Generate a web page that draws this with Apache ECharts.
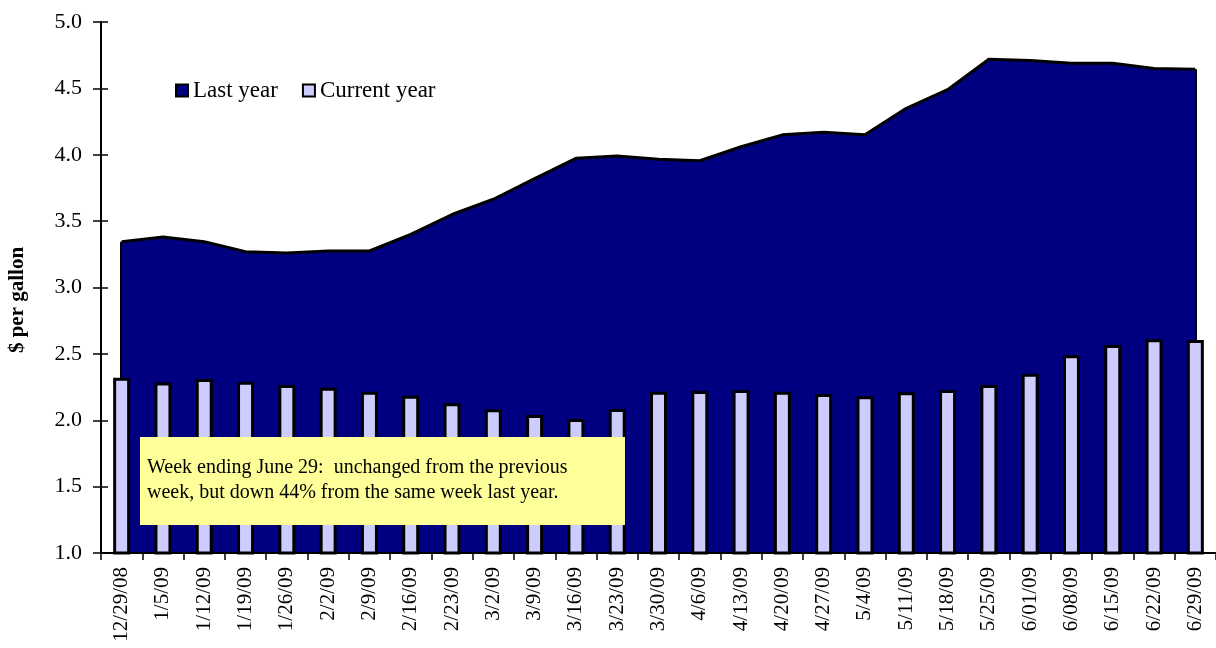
<!DOCTYPE html>
<html>
<head>
<meta charset="utf-8">
<script src="https://cdn.jsdelivr.net/npm/echarts@6/dist/echarts.min.js"></script>
<style>
html,body{margin:0;padding:0;background:#fff;}
#chart{width:1216px;height:648px;}
</style>
</head>
<body>
<div id="chart"></div>
<script>
const categories = ['12/29/08','1/5/09','1/12/09','1/19/09','1/26/09','2/2/09','2/9/09','2/16/09','2/23/09','3/2/09','3/9/09','3/16/09','3/23/09','3/30/09','4/6/09','4/13/09','4/20/09','4/27/09','5/4/09','5/11/09','5/18/09','5/25/09','6/01/09','6/08/09','6/15/09','6/22/09','6/29/09'];
const lastYear = [3.345,3.38,3.345,3.27,3.26,3.275,3.275,3.40,3.55,3.665,3.82,3.973,3.99,3.966,3.955,4.06,4.15,4.17,4.15,4.35,4.49,4.72,4.71,4.69,4.69,4.65,4.645];
const currentYear = [2.32,2.285,2.31,2.29,2.265,2.245,2.215,2.185,2.128,2.082,2.04,2.01,2.085,2.215,2.22,2.228,2.215,2.198,2.18,2.21,2.228,2.266,2.35,2.49,2.567,2.61,2.605];
const yTicks = {min: 1.0, max: 5.0, interval: 0.5};
const noteLines = ['Week ending June 29:  unchanged from the previous', 'week, but down 44% from the same week last year.'];

const FONT = 'Liberation Serif, Times New Roman, serif';
const chart = echarts.init(document.getElementById('chart'), null, {renderer: 'canvas'});
const n = categories.length;

chart.setOption({
  animation: false,
  backgroundColor: '#ffffff',
  grid: {left: 101, top: 22, bottom: 95, right: -10, containLabel: false},
  legend: {
    left: 170, top: 74,
    itemWidth: 12, itemHeight: 12, itemGap: 24,
    textStyle: {fontFamily: FONT, fontSize: 23, color: '#000'},
    data: [
      {name: 'Last year', icon: 'rect', itemStyle: {color: '#000080', borderColor: '#000', borderWidth: 2}},
      {name: 'Current year', icon: 'rect', itemStyle: {color: '#CCCCFF', borderColor: '#000', borderWidth: 2}}
    ]
  },
  xAxis: {
    type: 'category',
    data: categories,
    boundaryGap: true,
    z: 10,
    axisLine: {lineStyle: {color: '#000', width: 2}},
    axisTick: {show: true, length: 7, lineStyle: {color: '#000', width: 1.5}},
    axisLabel: {interval: 0, rotate: 90, margin: 14, fontFamily: FONT, fontSize: 21, color: '#000'}
  },
  yAxis: [{
    type: 'value',
    min: yTicks.min, max: yTicks.max, interval: yTicks.interval,
    z: 10,
    axisLine: {show: true, lineStyle: {color: '#000', width: 2}},
    axisTick: {show: true, length: 8, lineStyle: {color: '#000', width: 1.5}},
    axisLabel: {margin: 19, fontFamily: FONT, fontSize: 22, color: '#000', formatter: v => v.toFixed(1)},
    splitLine: {show: false}
  }, {
    type: 'value', position: 'left', offset: 0,
    min: yTicks.min, max: yTicks.max, interval: yTicks.interval,
    z: 10,
    axisLine: {show: false},
    axisTick: {show: true, inside: true, length: 7, lineStyle: {color: '#000', width: 1.5}},
    axisLabel: {show: false},
    splitLine: {show: false}
  }],
  series: [{
    name: 'Last year',
    type: 'line',
    data: lastYear,
    symbol: 'none',
    z: 1,
    itemStyle: {color: '#000080'},
    lineStyle: {color: '#000', width: 3},
    areaStyle: {color: '#000080', opacity: 1, origin: 'start'},
    markLine: {
      silent: true, symbol: 'none', animation: false, z: 1,
      label: {show: false},
      lineStyle: {color: '#000', width: 3, type: 'solid'},
      data: [
        [{coord: [categories[0], yTicks.min]}, {coord: [categories[0], lastYear[0]]}],
        [{coord: [categories[n-1], yTicks.min]}, {coord: [categories[n-1], lastYear[n-1]]}]
      ]
    }
  }, {
    name: 'Current year',
    type: 'bar',
    data: currentYear,
    barWidth: 17,
    z: 3,
    itemStyle: {color: '#CCCCFF', borderColor: '#000', borderWidth: 3}
  }],
  graphic: [{
    type: 'rect', left: 140, top: 437, z: 100,
    shape: {width: 485, height: 88},
    style: {fill: '#FFFF99'}
  }, {
    type: 'text', left: 147, top: 455, z: 101,
    style: {text: noteLines.join('\n'), font: '20px ' + FONT, fill: '#000', lineHeight: 25}
  }, {
    type: 'text', z: 101,
    x: 18, y: 300, rotation: Math.PI / 2,
    style: {text: '$ per gallon', font: 'bold 21px ' + FONT, fill: '#000', align: 'center', verticalAlign: 'middle'}
  }]
});
</script>
</body>
</html>
